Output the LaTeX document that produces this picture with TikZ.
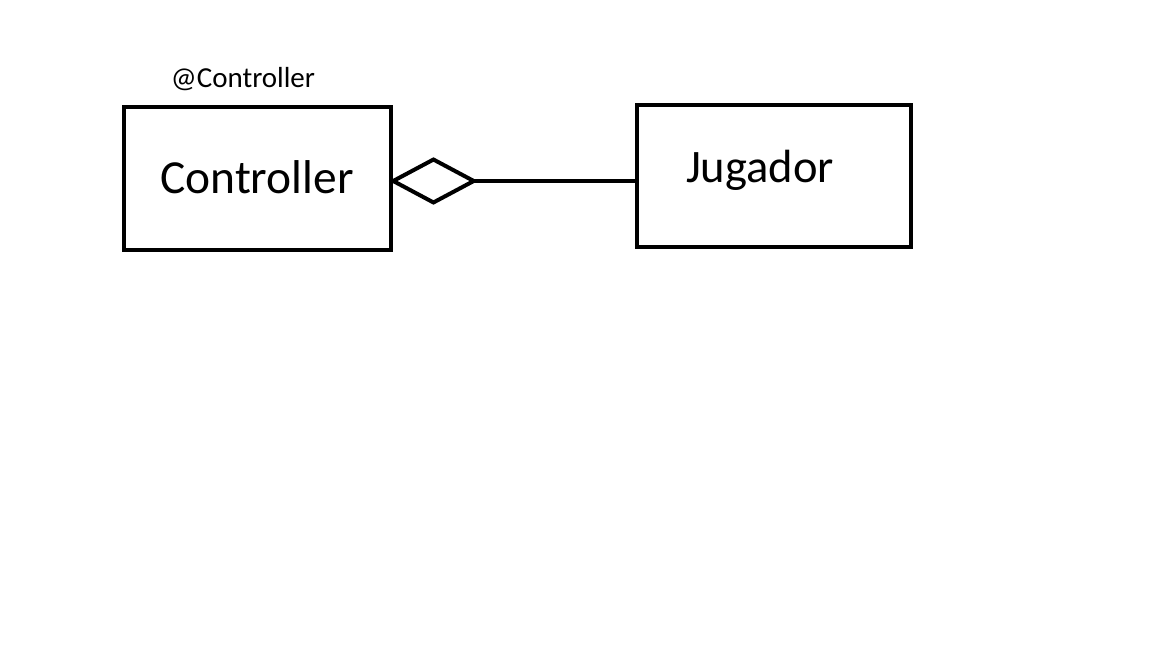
\documentclass[tikz,border=0pt]{standalone}
\usepackage{fontspec}
\setmainfont{Carlito}
\usetikzlibrary{arrows.meta}
\begin{document}
\begin{tikzpicture}[x=0.02cm,y=-0.02cm,
    classbox/.style={draw,line width=0.08cm,minimum width=5.34cm,minimum height=2.86cm,inner sep=0pt},
    aggregation/.style={line width=0.08cm,{Diamond[open,length=1.78cm,width=0.95cm,line join=miter]}-}]
        \useasboundingbox[fill=white] (0,0) rectangle (1152,648);

        \node[classbox] (controller) at (257.5,178.5) {};
        \node[classbox,minimum width=5.48cm,minimum height=2.84cm] (jugador) at (774,176) {};

        \node[font=\fontsize{27}{32}\selectfont] at (257,177) {Controller};
        \node[font=\fontsize{26.5}{32}\selectfont] at (760,170) {Jugador};
        \node[font=\fontsize{16.5}{20}\selectfont] (stereo) at (243,79) {@Controller};

        \coordinate (aggstart) at ([xshift=-0.08cm,yshift=-0.05cm]controller.east);
        \draw[aggregation] (aggstart) -- (jugador.west |- aggstart);
\end{tikzpicture}
\end{document}
